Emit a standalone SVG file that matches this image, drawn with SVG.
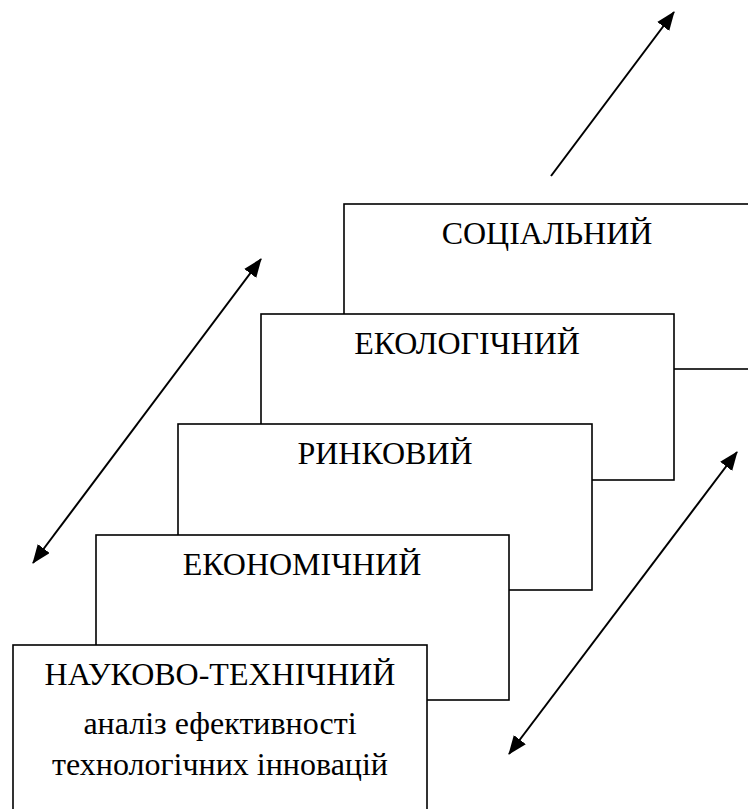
<svg xmlns="http://www.w3.org/2000/svg" width="748" height="809" viewBox="0 0 748 809">
  <style>
    .box { fill: #fff; stroke: #000; stroke-width: 1.6; }
    .lbl { font-family: "Liberation Serif", "Times New Roman", serif; font-size: 32px; fill: #000; text-anchor: middle; }
    .arr { stroke: #000; stroke-width: 2; fill: none; }
  </style>
  <defs>
    <marker id="ah" markerUnits="userSpaceOnUse" markerWidth="21" markerHeight="17" refX="18" refY="7.5" orient="auto-start-reverse" viewBox="0 0 21 17">
      <path d="M0,0 L19,7.5 L0,15 z" fill="#000"/>
    </marker>
  </defs>
  <rect width="748" height="809" fill="#fff"/>
  <g id="connectors">
    <line class="arr" x1="551" y1="176" x2="674" y2="12" marker-end="url(#ah)"/>
    <line class="arr" x1="33" y1="563" x2="261" y2="259" marker-start="url(#ah)" marker-end="url(#ah)"/>
    <line class="arr" x1="509" y1="754" x2="737" y2="452" marker-start="url(#ah)" marker-end="url(#ah)"/>
  </g>
  <g id="social">
    <rect class="box" x="344" y="204" width="414" height="165"/>
    <text class="lbl" x="547" y="244">СОЦІАЛЬНИЙ</text>
  </g>
  <g id="ecological">
    <rect class="box" x="261" y="314" width="413" height="166"/>
    <text class="lbl" x="467" y="354">ЕКОЛОГІЧНИЙ</text>
  </g>
  <g id="market">
    <rect class="box" x="178" y="424" width="414" height="166"/>
    <text class="lbl" x="385" y="464">РИНКОВИЙ</text>
  </g>
  <g id="economic">
    <rect class="box" x="96" y="535" width="413" height="165"/>
    <text class="lbl" x="302" y="575">ЕКОНОМІЧНИЙ</text>
  </g>
  <g id="scitech">
    <rect class="box" x="13" y="645" width="414" height="170"/>
    <text class="lbl" x="220" y="685">НАУКОВО-ТЕХНІЧНИЙ</text>
    <text class="lbl" x="220" y="734">аналіз ефективності</text>
    <text class="lbl" x="220" y="775">технологічних інновацій</text>
  </g>
</svg>
